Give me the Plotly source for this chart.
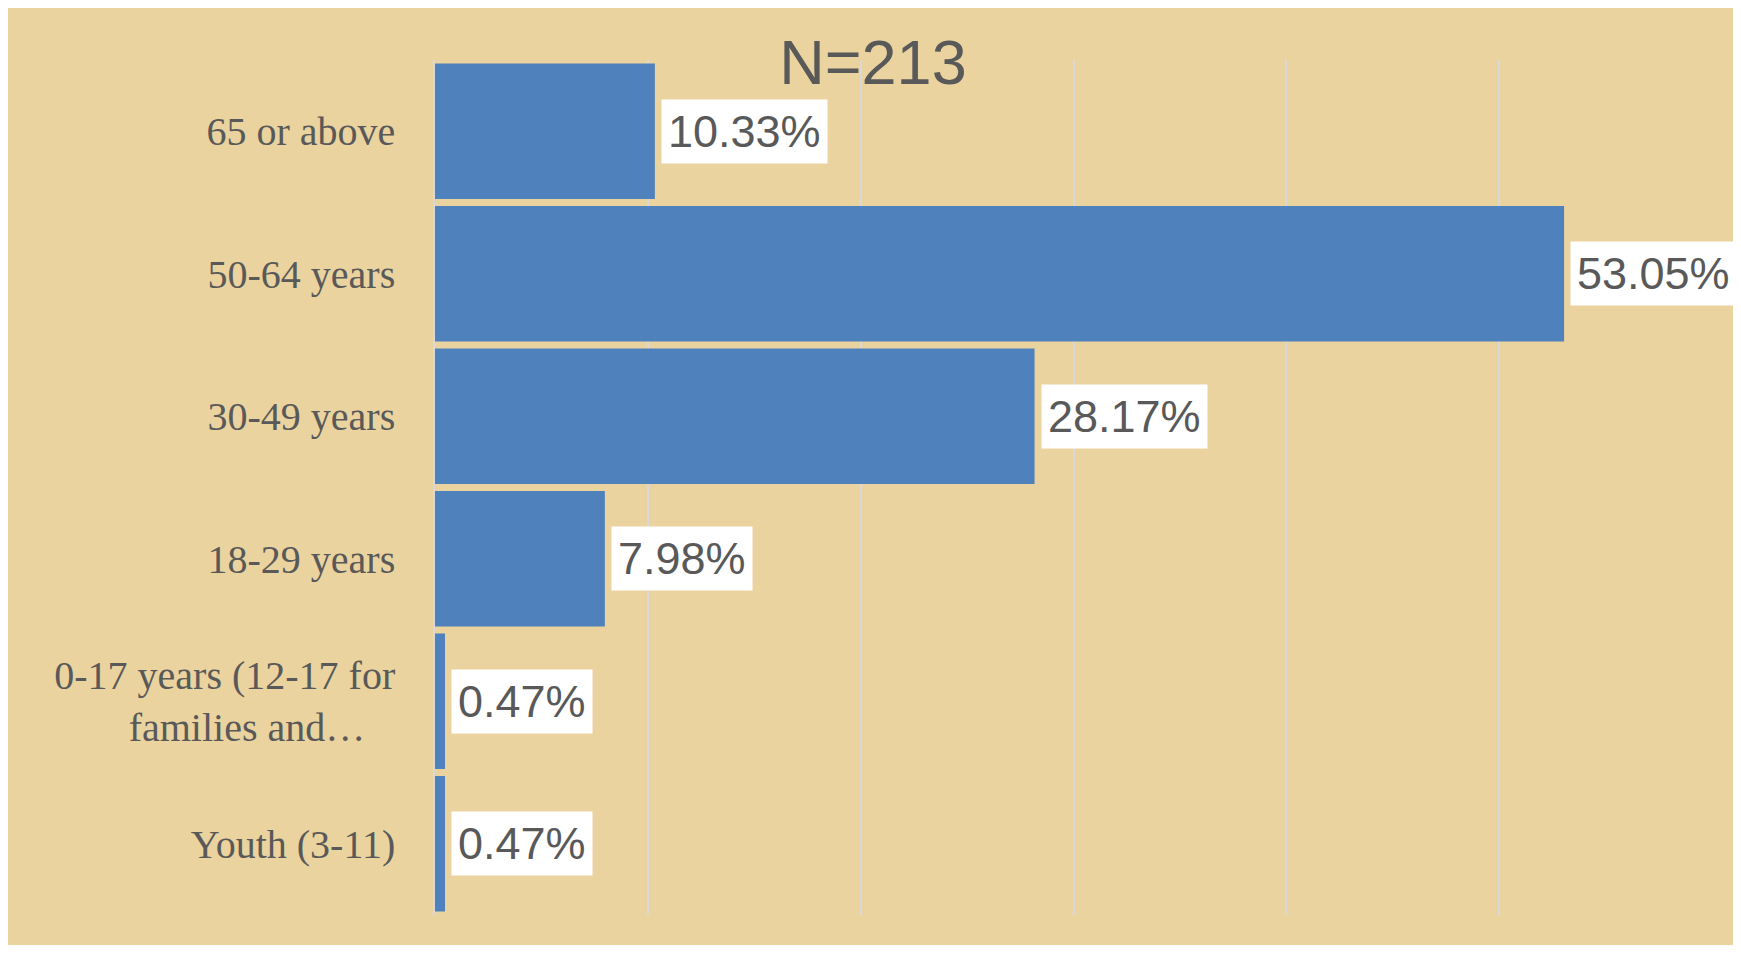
import plotly.graph_objects as go

categories = ["65 or above", "50-64 years", "30-49 years", "18-29 years",
              "0-17 years (12-17 for<br>families and…\u00a0\u00a0\u00a0", "Youth (3-11)"]
values = [10.33, 53.05, 28.17, 7.98, 0.47, 0.47]
value_labels = ["10.33%", "53.05%", "28.17%", "7.98%", "0.47%", "0.47%"]
title_text = "N=213"

# page body has an 8px margin; figure sized to fit the window without overflow
W, H = 1725, 937
L, R, T, B = 427, 21, 52, 30

fig = go.Figure()
fig.add_trace(go.Bar(
    x=values, y=categories, orientation="h",
    marker=dict(color="#4F81BD", line=dict(width=0)),
    hoverinfo="skip",
))

for v, c, lab in zip(values, categories, value_labels):
    fig.add_annotation(
        x=v, y=c, xref="x", yref="y", text=lab, showarrow=False,
        xanchor="left", yanchor="middle", xshift=6,
        bgcolor="white", borderpad=6,
        font=dict(family="Liberation Sans, Arial, sans-serif", size=45, color="#595959"),
    )

fig.update_layout(
    width=W, height=H,
    margin=dict(l=L, r=R, t=T, b=B, pad=0),
    paper_bgcolor="#EAD39E", plot_bgcolor="rgba(0,0,0,0)",
    bargap=0.05, showlegend=False,
    title=dict(text=title_text, x=(873 - 8) / W, xref="container", xanchor="center",
               y=1 - (62 - 8) / H, yanchor="middle",
               font=dict(family="Liberation Sans, Arial, sans-serif", size=63, color="#595959")),
    xaxis=dict(range=[0, 60], dtick=10, showticklabels=False, showgrid=True,
               gridcolor="#D9D9D9", gridwidth=1.5, zeroline=False, showline=False, fixedrange=True),
    yaxis=dict(categoryorder="array", categoryarray=categories, autorange="reversed",
               showline=True, linecolor="#D9D9D9", linewidth=1.5,
               ticks="outside", ticklen=30, tickcolor="rgba(0,0,0,0)",
               tickfont=dict(family="Liberation Serif, Times New Roman, serif", size=40, color="#595959"),
               showgrid=False, fixedrange=True),
)

fig.write_html("out.html")
